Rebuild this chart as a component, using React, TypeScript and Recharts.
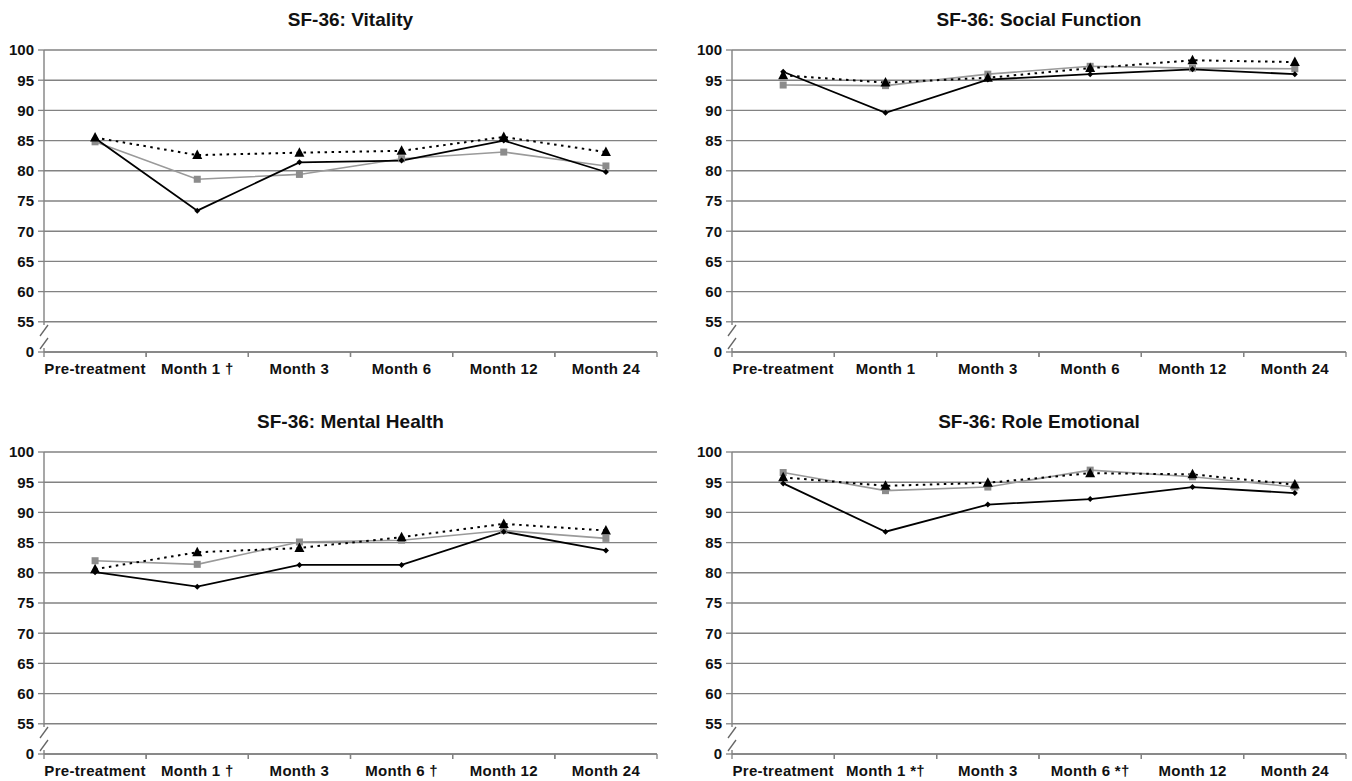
import React from 'react';
import { LineChart, Line, XAxis, YAxis, CartesianGrid } from 'recharts';

// ---------- data ----------
const VITALITY_LABELS = ['Pre-treatment', 'Month 1 \u2020', 'Month 3', 'Month 6', 'Month 12', 'Month 24'];
const VITALITY_A = [85.4, 73.4, 81.4, 81.7, 85.0, 79.8];
const VITALITY_B = [84.8, 78.6, 79.4, 82.0, 83.1, 80.8];
const VITALITY_C = [85.5, 82.6, 83.0, 83.3, 85.6, 83.1];

const SOCIAL_LABELS = ['Pre-treatment', 'Month 1', 'Month 3', 'Month 6', 'Month 12', 'Month 24'];
const SOCIAL_A = [96.4, 89.6, 95.1, 96.0, 96.8, 96.0];
const SOCIAL_B = [94.2, 94.1, 96.0, 97.3, 97.0, 96.9];
const SOCIAL_C = [95.8, 94.6, 95.4, 97.0, 98.3, 98.0];

const MENTAL_LABELS = ['Pre-treatment', 'Month 1 \u2020', 'Month 3', 'Month 6 \u2020', 'Month 12', 'Month 24'];
const MENTAL_A = [80.1, 77.7, 81.3, 81.3, 86.8, 83.7];
const MENTAL_B = [82.0, 81.4, 85.1, 85.4, 87.0, 85.7];
const MENTAL_C = [80.6, 83.4, 84.1, 85.9, 88.1, 87.0];

const ROLE_LABELS = ['Pre-treatment', 'Month 1 *\u2020', 'Month 3', 'Month 6 *\u2020', 'Month 12', 'Month 24'];
const ROLE_A = [94.8, 86.8, 91.3, 92.2, 94.2, 93.2];
const ROLE_B = [96.6, 93.6, 94.2, 97.0, 95.9, 94.2];
const ROLE_C = [95.8, 94.4, 94.9, 96.5, 96.3, 94.6];

// y axis: 55..100 in steps of 5, plus a broken-axis "0" placed one step below 55
const Y_TICKS = [50, 55, 60, 65, 70, 75, 80, 85, 90, 95, 100];
const Y_BREAK_VALUE = 50;
const Y_BREAK_LABEL = '0';

// ---------- styles ----------
const FONT = 'Liberation Sans, Arial, Helvetica, sans-serif';
const GRID = '#828282';
const GRAY_SERIES = '#9a9a9a';
const GRAY_MARK = '#8c8c8c';
const Y_AXIS_W = 44;
const CHART_H = 390;
const TOP_M = 50;
const X_AXIS_H = 38;

function makeRows(labels: string[], a: number[], b: number[], c: number[]) {
  return labels.map((label, i) => ({ label, a: a[i], b: b[i], c: c[i] }));
}

const Diamond = (props: any) => {
  const { cx, cy } = props;
  if (cx == null || cy == null) return null;
  const s = 3;
  return <polygon points={`${cx},${cy - s} ${cx + s},${cy} ${cx},${cy + s} ${cx - s},${cy}`} fill="#000" />;
};
const Square = (props: any) => {
  const { cx, cy } = props;
  if (cx == null || cy == null) return null;
  return <rect x={cx - 3.5} y={cy - 3.5} width={7} height={7} fill={GRAY_MARK} />;
};
const Triangle = (props: any) => {
  const { cx, cy } = props;
  if (cx == null || cy == null) return null;
  return <polygon points={`${cx},${cy - 5.5} ${cx + 5},${cy + 4} ${cx - 5},${cy + 4}`} fill="#000" />;
};

const YTick = (props: any) => {
  const { x, y, payload } = props;
  const v = payload.value;
  const ax = x + 8;
  const label = v === Y_BREAK_VALUE ? Y_BREAK_LABEL : String(v);
  return (
    <g>
      {v === Y_BREAK_VALUE && (
        <g>
          <rect x={ax - 3} y={y - 27} width={6} height={23} fill="#fff" />
          <line x1={ax - 4} y1={y - 16} x2={ax + 4} y2={y - 27} stroke="#666" strokeWidth={1.3} />
          <line x1={ax - 4} y1={y - 3} x2={ax + 4} y2={y - 14} stroke="#666" strokeWidth={1.3} />
        </g>
      )}
      <text x={x - 2} y={y} dy="0.36em" textAnchor="end" fontFamily={FONT} fontWeight="bold" fontSize={15} fill="#111">
        {label}
      </text>
    </g>
  );
};

const makeXTick = (step: number) => (props: any) => {
  const { x, y, payload } = props;
  return (
    <g>
      <line x1={x - step / 2} y1={y} x2={x - step / 2} y2={y + 5} stroke={GRID} strokeWidth={1.3} />
      <line x1={x + step / 2} y1={y} x2={x + step / 2} y2={y + 5} stroke={GRID} strokeWidth={1.3} />
      <text
        x={x}
        y={y + 22}
        textAnchor="middle"
        fontFamily={FONT}
        fontWeight="bold"
        fontSize={15}
        letterSpacing={0.3}
        fill="#111"
      >
        {payload.value}
      </text>
    </g>
  );
};

type PanelProps = {
  title: string;
  rows: any[];
  left: number;
  top: number;
  width: number;
  rightMargin: number;
};

function Panel({ title, rows, left, top, width, rightMargin }: PanelProps) {
  const plotW = width - Y_AXIS_W - rightMargin;
  const step = plotW / rows.length;
  const pad = step / 2;
  const XTick = makeXTick(step);
  return (
    <div style={{ position: 'absolute', left, top, width, height: CHART_H }}>
      <div
        style={{
          position: 'absolute',
          left: Y_AXIS_W,
          width: plotW,
          top: 10,
          textAlign: 'center',
          fontFamily: FONT,
          fontWeight: 'bold',
          fontSize: 19,
          color: '#111',
          lineHeight: '20px',
        }}
      >
        {title}
      </div>
      <LineChart width={width} height={CHART_H} data={rows} margin={{ top: TOP_M, right: rightMargin, left: 0, bottom: 0 }}>
        <CartesianGrid horizontal vertical={false} stroke={GRID} strokeWidth={1.4} />
        <XAxis
          dataKey="label"
          type="category"
          interval={0}
          height={X_AXIS_H}
          padding={{ left: pad, right: pad }}
          tickLine={false}
          tickSize={0}
          tickMargin={0}
          axisLine={{ stroke: GRID, strokeWidth: 1.4 }}
          tick={XTick}
        />
        <YAxis
          type="number"
          domain={[50, 100]}
          ticks={Y_TICKS}
          interval={0}
          width={Y_AXIS_W}
          tickSize={6}
          tickMargin={2}
          tickLine={{ stroke: GRID, strokeWidth: 1.3 }}
          axisLine={{ stroke: GRID, strokeWidth: 1.4 }}
          tick={YTick}
        />
        <Line dataKey="b" stroke={GRAY_SERIES} strokeWidth={1.6} dot={Square} activeDot={false} isAnimationActive={false} />
        <Line dataKey="a" stroke="#000" strokeWidth={1.8} dot={Diamond} activeDot={false} isAnimationActive={false} />
        <Line
          dataKey="c"
          stroke="#000"
          strokeWidth={2}
          strokeDasharray="2.5 4.5"
          dot={Triangle}
          activeDot={false}
          isAnimationActive={false}
        />
      </LineChart>
    </div>
  );
}

export default function App() {
  return (
    <div style={{ position: 'absolute', left: 0, top: 0, width: 1352, height: 781, background: '#fff' }}>
      <Panel title="SF-36: Vitality" rows={makeRows(VITALITY_LABELS, VITALITY_A, VITALITY_B, VITALITY_C)} left={0} top={0} width={676} rightMargin={19} />
      <Panel title="SF-36: Social Function" rows={makeRows(SOCIAL_LABELS, SOCIAL_A, SOCIAL_B, SOCIAL_C)} left={688} top={0} width={664} rightMargin={6} />
      <Panel title="SF-36: Mental Health" rows={makeRows(MENTAL_LABELS, MENTAL_A, MENTAL_B, MENTAL_C)} left={0} top={402} width={676} rightMargin={19} />
      <Panel title="SF-36: Role Emotional" rows={makeRows(ROLE_LABELS, ROLE_A, ROLE_B, ROLE_C)} left={688} top={402} width={664} rightMargin={6} />
    </div>
  );
}
